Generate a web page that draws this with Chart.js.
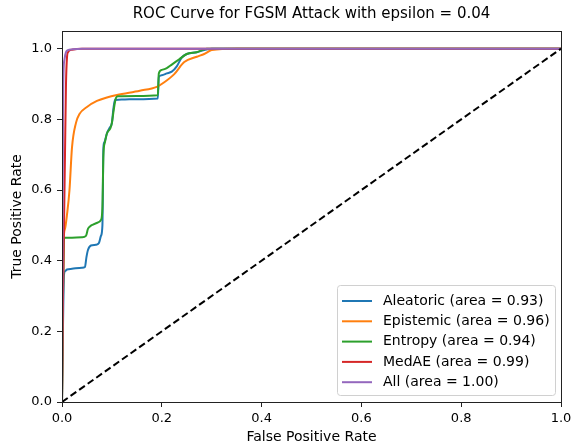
<!DOCTYPE html>
<html lang="en">
<head>
    <meta charset="UTF-8">
    <title>ROC Curve</title>
    <script src="https://cdn.jsdelivr.net/npm/chart.js"></script>
    <style>
        body {
            margin: 0;
            padding: 0;
            background: #fff;
        }
        .wrap {
            width: 573px;
            height: 447px;
        }
    </style>
</head>
<body>
    <div class="wrap">
        <canvas id="roc" width="573" height="447"></canvas>
    </div>

    <script>
        // data
        const xTicks = [0, 0.2, 0.4, 0.6, 0.8, 1.0];
        const yTicks = [0, 0.2, 0.4, 0.6, 0.8, 1.0];

        const labels = [
            'Aleatoric (area = 0.93)',
            'Epistemic (area = 0.96)',
            'Entropy (area = 0.94)',
            'MedAE (area = 0.99)',
            'All (area = 1.00)'
        ];

        const aleatoricFpr = [0, 0.004, 0.006, 0.01, 0.02, 0.04, 0.046, 0.049, 0.052, 0.058, 0.068, 0.074, 0.078, 0.081, 0.083, 0.085, 0.09, 0.095, 0.1, 0.103, 0.106, 0.12, 0.15, 0.192, 0.194, 0.2, 0.21, 0.22, 0.23, 0.24, 0.25, 0.27, 0.3, 1];
        const aleatoricTpr = [0, 0.36, 0.37, 0.375, 0.377, 0.38, 0.382, 0.41, 0.43, 0.443, 0.445, 0.45, 0.47, 0.5, 0.72, 0.735, 0.76, 0.775, 0.79, 0.83, 0.855, 0.856, 0.857, 0.859, 0.92, 0.925, 0.93, 0.935, 0.95, 0.975, 0.985, 0.99, 1.0, 1.0];

        const epistemicFpr = [0, 0.003, 0.006, 0.01, 0.015, 0.02, 0.028, 0.035, 0.05, 0.07, 0.09, 0.11, 0.156, 0.19, 0.205, 0.225, 0.245, 0.27, 0.285, 0.3, 0.35, 1];
        const epistemicTpr = [0, 0.45, 0.49, 0.53, 0.6, 0.72, 0.79, 0.815, 0.835, 0.852, 0.862, 0.869, 0.881, 0.892, 0.905, 0.928, 0.962, 0.977, 0.985, 0.996, 1.0, 1.0];

        const entropyFpr = [0, 0.004, 0.006, 0.02, 0.04, 0.048, 0.052, 0.056, 0.062, 0.072, 0.078, 0.081, 0.083, 0.086, 0.09, 0.097, 0.1, 0.104, 0.108, 0.112, 0.15, 0.192, 0.194, 0.2, 0.21, 0.22, 0.235, 0.25, 0.27, 0.29, 1];
        const entropyTpr = [0, 0.46, 0.465, 0.465, 0.466, 0.47, 0.49, 0.497, 0.502, 0.508, 0.515, 0.55, 0.7, 0.735, 0.76, 0.775, 0.79, 0.83, 0.86, 0.865, 0.866, 0.868, 0.93, 0.94, 0.945, 0.955, 0.97, 0.985, 0.99, 1.0, 1.0];

        const medaeFpr = [0, 0.002, 0.004, 0.006, 0.008, 0.01, 0.012, 0.02, 0.04, 1];
        const medaeTpr = [0, 0.3, 0.5, 0.7, 0.9, 0.975, 0.99, 0.997, 1.0, 1.0];

        const allFpr = [0, 0.001, 0.002, 0.003, 0.005, 0.008, 0.012, 0.02, 0.04, 1];
        const allTpr = [0, 0.4, 0.8, 0.93, 0.97, 0.99, 0.996, 0.998, 1.0, 1.0];

        const chanceX = [0, 1];
        const chanceY = [0, 1];

        const colors = ['#1f77b4', '#ff7f0e', '#2ca02c', '#d62728', '#9467bd'];
        const FONT = 'DejaVu Sans';

        function pts(xs, ys) {
            return xs.map((x, i) => ({ x: x, y: ys[i] }));
        }

        const series = [
            pts(aleatoricFpr, aleatoricTpr),
            pts(epistemicFpr, epistemicTpr),
            pts(entropyFpr, entropyTpr),
            pts(medaeFpr, medaeTpr),
            pts(allFpr, allTpr)
        ];

        const datasets = series.map((d, i) => ({
            label: labels[i],
            data: d,
            borderColor: colors[i],
            borderWidth: 2,
            pointRadius: 0,
            fill: false,
            cubicInterpolationMode: 'monotone',
            order: 10 - i
        }));

        datasets.push({
            label: 'chance',
            data: pts(chanceX, chanceY),
            borderColor: '#000',
            borderWidth: 2,
            borderDash: [7, 3.5],
            pointRadius: 0,
            fill: false,
            order: 1
        });

        // title, frame and legend drawn like matplotlib
        const decorations = {
            id: 'decorations',
            afterDatasetsDraw(chart) {
                const { ctx, chartArea: a } = chart;
                ctx.save();
                ctx.strokeStyle = '#222';
                ctx.lineWidth = 1;
                ctx.strokeRect(a.left + 0.5, a.top + 0.5, a.right - a.left, a.bottom - a.top);

                ctx.fillStyle = '#000';
                ctx.font = '15px "' + FONT + '"';
                ctx.textAlign = 'center';
                ctx.textBaseline = 'middle';
                ctx.fillText('ROC Curve for FGSM Attack with epsilon = 0.04', (a.left + a.right) / 2, 14);

                // legend box
                const bx = 337, by = 285, bw = 218, bh = 110;
                ctx.fillStyle = 'rgba(255,255,255,0.8)';
                ctx.strokeStyle = '#d0d0d0';
                ctx.beginPath();
                ctx.roundRect(bx + 0.5, by + 0.5, bw, bh, 3);
                ctx.fill();
                ctx.stroke();

                ctx.font = '14px "' + FONT + '"';
                ctx.textAlign = 'left';
                ctx.textBaseline = 'middle';
                labels.forEach((lab, i) => {
                    const y = 301 + i * 20.3;
                    ctx.strokeStyle = colors[i];
                    ctx.lineWidth = 2;
                    ctx.beginPath();
                    ctx.moveTo(342, y);
                    ctx.lineTo(372, y);
                    ctx.stroke();
                    ctx.fillStyle = '#000';
                    ctx.fillText(lab, 383, y);
                });
                ctx.restore();
            }
        };

        const ctx = document.getElementById('roc').getContext('2d');
        new Chart(ctx, {
            type: 'line',
            data: { datasets: datasets },
            options: {
                responsive: false,
                animation: false,
                layout: { padding: { top: 31, right: 12, left: 0, bottom: 0 } },
                plugins: {
                    legend: { display: false },
                    tooltip: { enabled: false },
                    title: { display: false }
                },
                scales: {
                    x: {
                        type: 'linear',
                        min: 0,
                        max: 1,
                        afterBuildTicks: s => { s.ticks = xTicks.map(v => ({ value: v })); },
                        afterFit: s => { s.height = 45; s.paddingLeft = 0; s.paddingRight = 0; },
                        grid: { drawOnChartArea: false, drawTicks: true, tickLength: 5, color: '#222' },
                        border: { display: false },
                        ticks: {
                            color: '#000',
                            font: { family: FONT, size: 13 },
                            padding: 4,
                            maxRotation: 0,
                            callback: v => v.toFixed(1)
                        },
                        title: {
                            display: true,
                            text: 'False Positive Rate',
                            color: '#000',
                            font: { family: FONT, size: 14 },
                            padding: { top: 0, bottom: 1 }
                        }
                    },
                    y: {
                        type: 'linear',
                        min: 0,
                        max: 1.05,
                        afterBuildTicks: s => { s.ticks = yTicks.map(v => ({ value: v })); },
                        afterFit: s => { s.width = 62; s.paddingTop = 0; s.paddingBottom = 0; },
                        grid: { drawOnChartArea: false, drawTicks: true, tickLength: 5, color: '#222' },
                        border: { display: false },
                        ticks: {
                            color: '#000',
                            font: { family: FONT, size: 13 },
                            padding: 5,
                            callback: v => v.toFixed(1)
                        },
                        title: {
                            display: true,
                            text: 'True Positive Rate',
                            color: '#000',
                            font: { family: FONT, size: 14 },
                            padding: { top: 9, bottom: 0 }
                        }
                    }
                }
            },
            plugins: [decorations]
        });
    </script>
</body>
</html>
